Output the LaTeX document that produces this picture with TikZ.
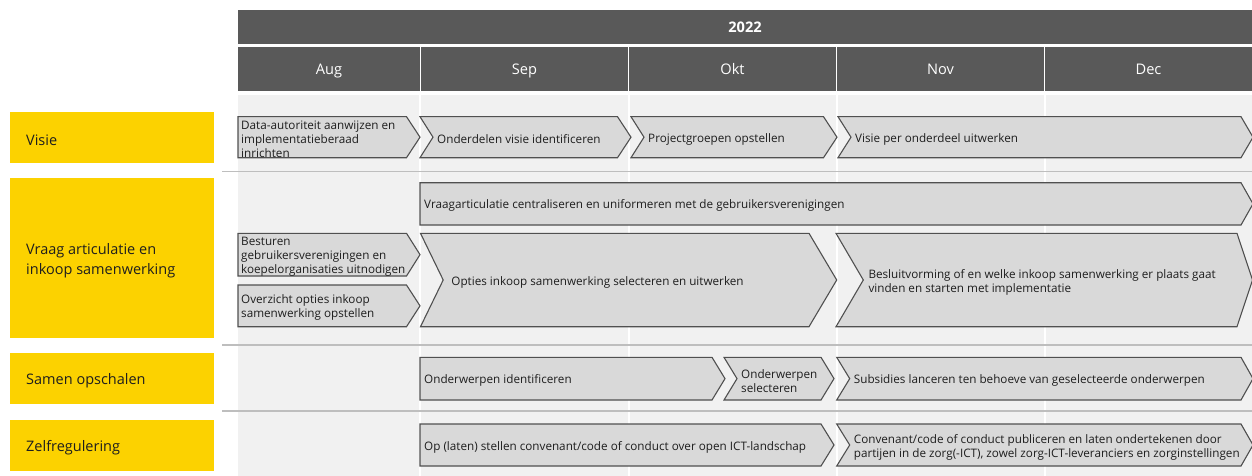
\documentclass[tikz,border=0pt]{standalone}
\usepackage{fontspec}
\setmainfont{Open Sans}
\definecolor{hdrgray}{RGB}{89,89,89}
\definecolor{bggray}{RGB}{241,241,241}
\definecolor{chevfill}{RGB}{217,217,217}
\definecolor{chevline}{RGB}{80,80,80}
\definecolor{rowline}{RGB}{190,190,190}
\definecolor{labyellow}{RGB}{252,210,0}
\definecolor{txtdark}{RGB}{30,30,30}
\tikzset{
  hdr/.style={fill=hdrgray, text=white, inner sep=0pt, outer sep=0pt, anchor=north west, text height=12pt, text depth=0pt, font=\fontsize{14.6}{17}\selectfont},
  labbox/.style={fill=labyellow, inner sep=0pt, outer sep=0pt, anchor=north west, minimum width=204pt},
  labtext/.style={text=txtdark, inner sep=0pt, anchor=west, align=left, font=\fontsize{14.5}{20}\selectfont},
  chevshape/.style={fill=chevfill, draw=chevline, line width=1.1pt, line join=miter},
  chevtext/.style={anchor=west, inner sep=0pt, align=left, text=txtdark, yshift=-2pt, font=\fontsize{11.7}{14}\selectfont},
  rowsep/.style={draw=rowline, line width=1.6pt},
  colsep/.style={draw=white, line width=2pt}
}
% #1 name, #2 left x, #3 tip x, #4 top y, #5 bottom y, #6 tip depth, #7 notch depth, #8 text offset, #9 text
\newcommand{\chev}[9]{%
  \draw[chevshape] (#2,#4) -- ({#3-#6},#4) -- (#3,{(#4+#5)/2}) -- ({#3-#6},#5) -- (#2,#5) -- ({#2+#7},{(#4+#5)/2}) -- cycle;
  \node[chevtext] (#1) at ({#2+#7+#8},{(#4+#5)/2}) {#9};
}
\newcommand{\lab}[5]{% name, top y, height, text
  \node[labbox, minimum height=#3pt] (#1) at (10,#2) {};
  \node[labtext] (#1-t) at ([xshift=16pt,yshift=-2.5pt]#1.west) {#4};
}
\begin{document}
\begin{tikzpicture}[x=1pt,y=-1pt]
\useasboundingbox (0,0) rectangle (1252,476);
\clip (0,0) rectangle (1252,476);
\fill[white] (0,0) rectangle (1252,476);
% header
\node[hdr, minimum width=1014pt, minimum height=34pt] (year) at (238,10) {\bfseries 2022};
\node[hdr, minimum width=182pt, minimum height=44pt] (aug) at (238,47) {Aug};
\node[hdr, minimum width=207pt, minimum height=44pt] (sep) at (421,47) {Sep};
\node[hdr, minimum width=207pt, minimum height=44pt] (okt) at (629,47) {Okt};
\node[hdr, minimum width=207pt, minimum height=44pt] (nov) at (837,47) {Nov};
\node[hdr, minimum width=207pt, minimum height=44pt] (dec) at (1045,47) {Dec};
% background
\fill[bggray] (238,95) rectangle (1252,476);
\foreach \cx in {420,628.5,836.5,1044.5} \draw[colsep] (\cx,95) -- (\cx,476);
\foreach \ry in {171.5,345,411} \draw[rowsep] (222,\ry) -- (1252,\ry);
% labels
\lab{visie}{112}{51}{Visie}{}
\lab{vraag}{178}{160}{Vraag articulatie en\\inkoop samenwerking}{}
\lab{samen}{353}{51}{Samen opschalen}{}
\lab{zelf}{420}{51}{Zelfregulering}{}
% Visie row
\chev{v1}{238}{420}{116.7}{157.7}{13.5}{0}{3}{Data-autoriteit aanwijzen en\\implementatieberaad\\inrichten}
\chev{v2}{420}{631}{116.7}{157.7}{13.5}{13}{4}{Onderdelen visie identificeren}
\chev{v3}{631}{837}{116.7}{157.7}{13.5}{13}{4}{Projectgroepen opstellen}
\chev{v4}{838}{1253}{116.7}{157.7}{12}{13}{4}{Visie per onderdeel uitwerken}
% Vraag row
\chev{r1}{420}{1253}{182.7}{225}{12}{0}{4}{Vraagarticulatie centraliseren en uniformeren met de gebruikersverenigingen}
\chev{r2}{238}{420}{233.3}{276}{13.5}{0}{3}{Besturen\\gebruikersverenigingen en\\koepelorganisaties uitnodigen}
\chev{r3}{238}{420}{285}{326.7}{13.5}{0}{3}{Overzicht opties inkoop\\samenwerking opstellen}
\chev{r4}{420.5}{836.7}{233.3}{326.7}{27.7}{22.7}{8}{Opties inkoop samenwerking selecteren en uitwerken}
\chev{r5}{836}{1252.5}{233.3}{326.7}{15.5}{27.3}{5}{Besluitvorming of en welke inkoop samenwerking er plaats gaat\\vinden en starten met implementatie}
% Samen row
\chev{s1}{420}{725}{357.3}{400}{13}{0}{4}{Onderwerpen identificeren}
\chev{s2}{724}{834}{357.3}{400}{13}{13}{4}{Onderwerpen\\selecteren}
\chev{s3}{836.7}{1253}{357.3}{400}{12}{13}{4}{Subsidies lanceren ten behoeve van geselecteerde onderwerpen}
% Zelf row
\chev{z1}{420}{834}{424}{466}{13}{0}{4}{Op (laten) stellen convenant/code of conduct over open ICT-landschap}
\chev{z2}{836.7}{1253}{424}{466}{12}{13}{4}{Convenant/code of conduct publiceren en laten ondertekenen door\\partijen in de zorg(-ICT), zowel zorg-ICT-leveranciers en zorginstellingen}
\end{tikzpicture}
\end{document}
